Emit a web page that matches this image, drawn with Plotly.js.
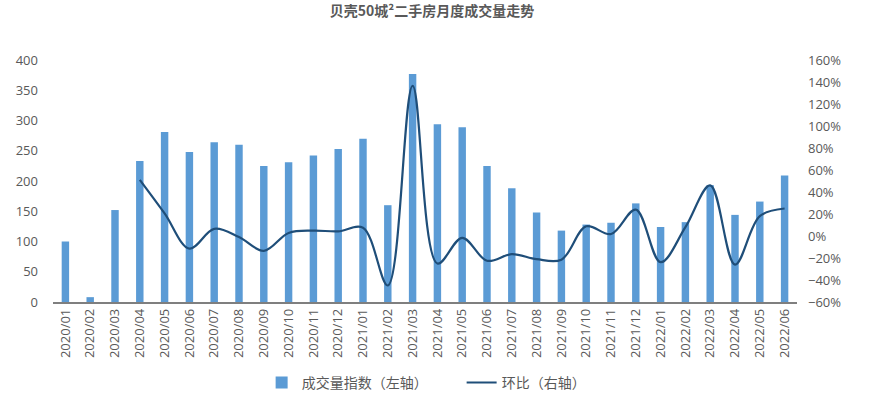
<!DOCTYPE html>
<html>
<head>
<meta charset="utf-8">
<script src="https://cdn.plot.ly/plotly-3.0.1.min.js"></script>
<style>html,body{margin:0;padding:0;background:#fff;}#chart{width:871px;height:398px;}</style>
</head>
<body>
<div id="chart"></div>
<script>
const months = ['2020/01','2020/02','2020/03','2020/04','2020/05','2020/06','2020/07','2020/08','2020/09','2020/10','2020/11','2020/12',
  '2021/01','2021/02','2021/03','2021/04','2021/05','2021/06','2021/07','2021/08','2021/09','2021/10','2021/11','2021/12',
  '2022/01','2022/02','2022/03','2022/04','2022/05','2022/06'];
const volumeIndex = [100, 8, 152, 233, 281, 248, 264, 260, 225, 231, 242, 253,
  270, 160, 377, 294, 289, 225, 188, 148, 118, 128, 131, 163,
  124, 132, 193, 144, 166, 209];
const momChange = [null, null, null, 51, 20.5, -11.5, 6.5, -1, -13.5, 2.8, 4.9, 4.2,
  7.5, -45, 136.5, -25, -1.7, -22.5, -16.5, -21, -21.5, 8.8, 1.8, 24,
  -23.8, 8, 46, -26, 18, 25];

const seriesNames = ['成交量指数（左轴）', '环比（右轴）'];
const chartTitle = '贝壳50城²二手房月度成交量走势';

const fontFam = '"Noto Sans CJK SC", "Open Sans", sans-serif';
const numFam = '"Open Sans", sans-serif';
const grey = '#595959';

const traces = [
  {
    type: 'bar', x: months, y: volumeIndex, name: seriesNames[0],
    marker: {color: '#5B9BD5'}, yaxis: 'y'
  },
  {
    type: 'scatter', mode: 'lines', x: months, y: momChange, name: seriesNames[1],
    line: {color: '#1F4E79', width: 2.2, shape: 'spline', smoothing: 1}, yaxis: 'y2',
    connectgaps: false
  }
];

const layout = {
  width: 871, height: 398,
  margin: {l: 52.5, r: 73.5, t: 60, b: 96.3, pad: 0},
  paper_bgcolor: '#fff', plot_bgcolor: '#fff',
  font: {family: fontFam, size: 12, color: grey},
  title: {text: '<b>' + chartTitle + '</b>', font: {family: fontFam, size: 14, color: grey},
    x: 0.496, xref: 'container', xanchor: 'center', y: 0.972, yref: 'container', yanchor: 'middle'},
  bargap: 0.7,
  showlegend: true,
  legend: {orientation: 'h', xref: 'container', yref: 'container', x: 0.53, xanchor: 'center',
    y: 0.038, yanchor: 'middle', font: {family: fontFam, size: 14, color: grey}, itemwidth: 30,
    entrywidth: 155, entrywidthmode: 'pixels', traceorder: 'normal'},
  xaxis: {
    type: 'category', tickangle: -90, showgrid: false, zeroline: false,
    showline: true, linecolor: '#7f7f7f', linewidth: 1.5, ticks: '',
    tickfont: {family: numFam, size: 13, color: grey},
    automargin: false
  },
  yaxis: {
    range: [0, 400], dtick: 50, showgrid: false, zeroline: false, showline: false, ticks: '',
    ticklabelstandoff: 14,
    tickfont: {family: numFam, size: 13, color: grey}, automargin: false
  },
  yaxis2: {
    range: [-60, 160], dtick: 20, ticksuffix: '%', overlaying: 'y', side: 'right',
    showgrid: false, zeroline: false, showline: false, ticks: '', ticklabelstandoff: 10,
    tickfont: {family: numFam, size: 13, color: grey}, automargin: false
  }
};

Plotly.newPlot('chart', traces, layout, {displayModeBar: false, staticPlot: true});
</script>
</body>
</html>
